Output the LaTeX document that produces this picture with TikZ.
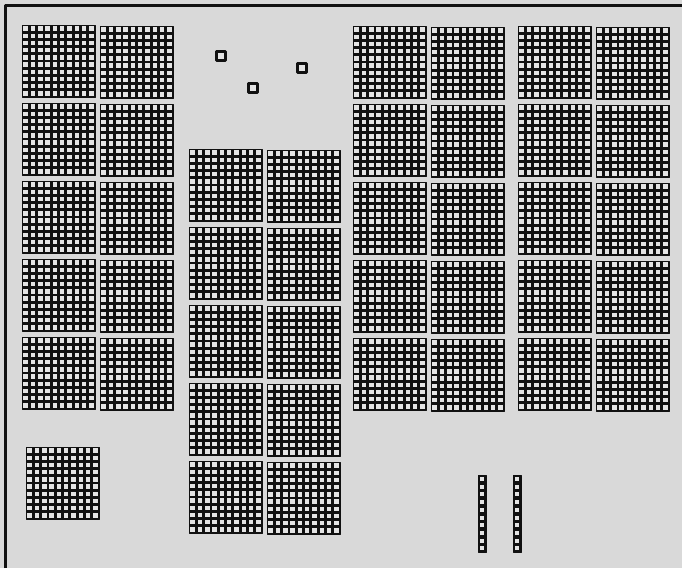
\documentclass[tikz,border=0pt]{standalone}
\usetikzlibrary{calc}
\definecolor{paper}{HTML}{D9D9D9}
\definecolor{ink}{HTML}{111111}
\definecolor{hole}{HTML}{E4E4E4}
\tikzset{el/.style={line cap=round, line join=round}}
% light squares of a hundred flat
\newcommand{\flatgrid}[1]{%
  \foreach \i in {0,...,9}
    \foreach \j in {0,...,9}
      \fill[cell] ($(#1.north west)+(\i*7.3+1.4,\j*7.2+1.4)$) rectangle +(4.5,4.4);}
\newcommand{\hflat}[3]{%
  \node[flatbox] (#1) at (#2,#3) {};\flatgrid{#1}}

\begin{document}
\begin{tikzpicture}[el, x=1pt, y=-1pt,
     flatbox/.style={draw=ink, fill=ink, line width=0.8pt, anchor=north west, inner sep=0pt,
        outer sep=0pt, minimum width=73pt, minimum height=72pt},
     rodbox/.style={draw=ink, fill=ink, line width=0.8pt, anchor=north west, inner sep=0pt,
        outer sep=0pt, minimum width=8pt, minimum height=77pt},
     unitbox/.style={draw=ink, fill=hole, line width=2.8pt, inner sep=0pt, outer sep=0pt,
        minimum size=8.5pt},
     cell/.style={hole},
     frameline/.style={ink, line width=3pt, line cap=butt}]
  \fill[paper] (0,0) rectangle (682,568);
  \useasboundingbox (0,0) rectangle (682,568);
  \draw[frameline] (5,568) -- (5,5) -- (682,5);
  % thousands on the left
  \foreach \r in {0,...,4}{
    \hflat{la\r}{22}{25+78*\r}
    \hflat{lb\r}{100}{26+78*\r}}
  \hflat{lx}{26}{447}
  % middle stack
  \foreach \r in {0,...,4}{
    \hflat{ma\r}{189}{149+78*\r}
    \hflat{mb\r}{267}{150+78*\r}}
  % right blocks
  \foreach \r in {0,...,4}{
    \hflat{ra\r}{353}{26+78*\r}
    \hflat{rb\r}{431}{27+78*\r}
    \hflat{sa\r}{518}{26+78*\r}
    \hflat{sb\r}{596}{27+78*\r}}
  % tens
  \foreach \n/\x in {t1/478, t2/513}{
    \node[rodbox] (\n) at (\x,475) {};
    \foreach \j in {0,...,9}
      \fill[cell] ($(\n.north west)+(2,\j*7.7+2)$) rectangle +(4,4);}
  % ones
  \node[unitbox] (u1) at (221,56) {};
  \node[unitbox] (u2) at (253,88) {};
  \node[unitbox] (u3) at (302,68) {};
\end{tikzpicture}
\end{document}
